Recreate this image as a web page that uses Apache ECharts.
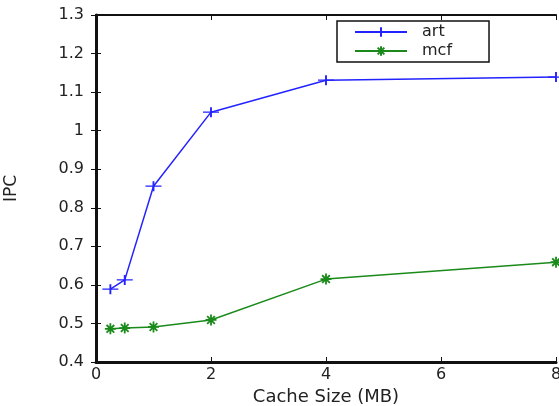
<!DOCTYPE html>
<html><head><meta charset="utf-8">
<script src="https://cdn.jsdelivr.net/npm/echarts@6/dist/echarts.min.js"></script>
<style>html,body{margin:0;padding:0;background:#fff}#c{width:559px;height:406px}</style>
</head><body><div id="c"></div>
<script>
const cacheSizes = [0.25, 0.5, 1, 2, 4, 8];
const artIPC = [0.589, 0.613, 0.856, 1.048, 1.131, 1.139];
const mcfIPC = [0.486, 0.488, 0.491, 0.509, 0.615, 0.659];
const xTicks = [0, 2, 4, 6, 8];
const yTicks = [0.4, 0.5, 0.6, 0.7, 0.8, 0.9, 1, 1.1, 1.2, 1.3];

const font = 'DejaVu Sans, Arial, sans-serif';
const plusPath = 'path://M0,5 L10,5 M5,0 L5,10';
const starPath = 'path://M0,5 L10,5 M5,0 L5,10 M1.5,1.5 L8.5,8.5 M8.5,1.5 L1.5,8.5';

function axisStyle(w) {
  return {
    axisLine: {show: true, lineStyle: {color: '#111', width: w}},
    axisTick: {show: true, inside: true, length: 5, lineStyle: {color: '#111', width: 1}},
    splitLine: {show: false}
  };
}
const chart = echarts.init(document.getElementById('c'));
chart.setOption({
  animation: false,
  grid: {left: 96, right: 3, top: 15, bottom: 44, containLabel: false, outerBoundsMode: 'none'},
  legend: {
    top: 21, left: 337, orient: 'vertical',
    itemWidth: 52, itemHeight: 12, itemGap: 3,
    padding: [3, 37, 3, 17],
    borderColor: '#111', borderWidth: 1.5,
    textStyle: {fontFamily: font, fontSize: 16, color: '#222', padding: [0, 0, 0, 10]},
    data: [
      {name: 'art'},
      {name: 'mcf'}
    ]
  },
  xAxis: [
    Object.assign({type: 'value', min: 0, max: 8, interval: 2, position: 'bottom',
      name: 'Cache Size (MB)', nameLocation: 'middle', nameGap: 24,
      nameTextStyle: {fontFamily: font, fontSize: 18, color: '#222'},
      axisLabel: {fontFamily: font, fontSize: 16, color: '#222', margin: 5,
        formatter: v => xTicks.includes(v) ? String(v) : ''}}, axisStyle(3)),
    Object.assign({type: 'value', min: 0, max: 8, interval: 2, position: 'top',
      axisLabel: {show: false}}, axisStyle(2))
  ],
  yAxis: [
    Object.assign({type: 'value', min: 0.4, max: 1.3, interval: 0.1, position: 'left',
      name: 'IPC', nameLocation: 'middle', nameGap: 76,
      nameTextStyle: {fontFamily: font, fontSize: 17, color: '#222'},
      axisLabel: {fontFamily: font, fontSize: 16, color: '#222', margin: 12,
        formatter: v => { const r = Math.round(v * 10) / 10; return yTicks.includes(r) ? String(r) : ''; }}}, axisStyle(3)),
    Object.assign({type: 'value', min: 0.4, max: 1.3, interval: 0.1, position: 'right',
      axisLabel: {show: false}}, axisStyle(2))
  ],
  series: [
    {name: 'art', type: 'line', data: cacheSizes.map((x, i) => [x, artIPC[i]]),
      symbol: plusPath, symbolSize: [16, 10], showAllSymbol: true,
      lineStyle: {color: '#2323ff', width: 1.5},
      itemStyle: {color: '#2323ff', borderColor: '#2323ff', borderWidth: 1.5}},
    {name: 'mcf', type: 'line', data: cacheSizes.map((x, i) => [x, mcfIPC[i]]),
      symbol: starPath, symbolSize: 11, showAllSymbol: true,
      lineStyle: {color: '#1a8a1a', width: 1.5},
      itemStyle: {color: '#1a8a1a', borderColor: '#1a8a1a', borderWidth: 1.8}}
  ]
});
</script></body></html>
